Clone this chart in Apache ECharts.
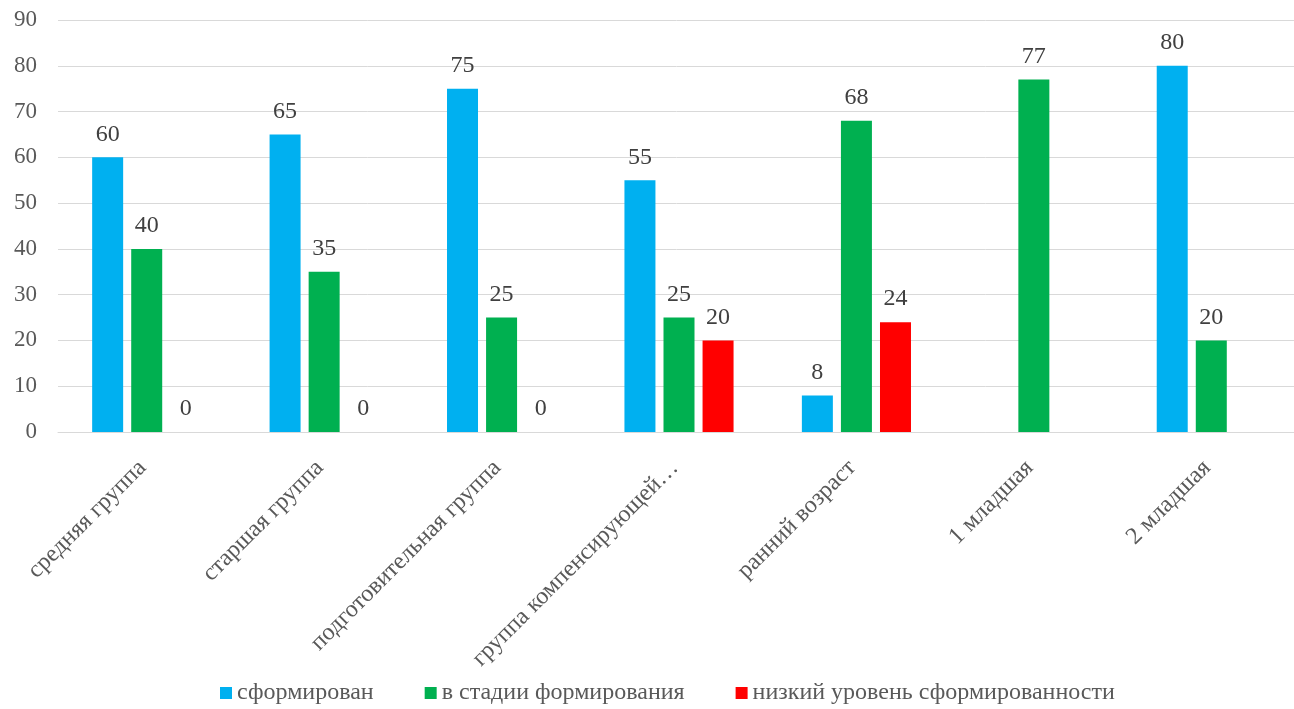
<!DOCTYPE html>
<html>
<head>
<meta charset="utf-8">
<script src="https://cdn.jsdelivr.net/npm/echarts@6/dist/echarts.min.js"></script>
<style>
html,body{margin:0;padding:0;background:#fff;}
#chart{width:1294px;height:709px;}
</style>
</head>
<body>
<div id="chart"></div>
<script>
const categories = ['средняя группа', 'старшая группа', 'подготовительная группа', 'группа компенсирующей…', 'ранний возраст', '1 младшая', '2 младшая'];
const seriesNames = ['сформирован', 'в стадии формирования', 'низкий уровень сформированности'];
const formed = [60, 65, 75, 55, 8, null, 80];
const forming = [40, 35, 25, 25, 68, 77, 20];
const low = [0, 0, 0, 20, 24, null, null];
const yTicks = {min: 0, max: 90, interval: 10};

const colors = ['#00B0F0', '#00B050', '#FF0000'];
const FONT = '"Liberation Serif", "Times New Roman", serif';

const chart = echarts.init(document.getElementById('chart'), null, {renderer: 'canvas'});
const labelCfg = {show: true, position: 'top', distance: 11, fontFamily: FONT, fontSize: 24, color: '#404040'};
function mk(name, data, color) {
  return {
    name: name, type: 'bar', data: data, barWidth: 31, barGap: '26%',
    itemStyle: {color: color}, label: labelCfg, emphasis: {disabled: true}
  };
}
chart.setOption({
  animation: false,
  color: colors,
  grid: {left: 58, width: 1242, top: 20, bottom: 277, containLabel: false, outerBoundsMode: 'none'},
  legend: {
    left: 220, top: 681, padding: 0, itemWidth: 12, itemHeight: 12, itemGap: 51, itemTextGap: 5,
    icon: 'rect',
    textStyle: {fontFamily: FONT, fontSize: 24, color: '#595959'},
    data: seriesNames
  },
  xAxis: {
    type: 'category', data: categories,
    axisLine: {lineStyle: {color: '#D9D9D9', width: 1}},
    axisTick: {show: false},
    axisLabel: {rotate: 45, interval: 0, margin: 28, padding: [17, 6, 0, 0], fontFamily: FONT, fontSize: 24, color: '#595959'}
  },
  yAxis: {
    type: 'value', min: yTicks.min, max: yTicks.max, interval: yTicks.interval,
    axisLine: {show: false}, axisTick: {show: false},
    splitLine: {lineStyle: {color: '#D9D9D9', width: 1}},
    axisLabel: {margin: 21, fontFamily: FONT, fontSize: 23, color: '#595959'}
  },
  series: [mk(seriesNames[0], formed, colors[0]), mk(seriesNames[1], forming, colors[1]), mk(seriesNames[2], low, colors[2])]
});
</script>
</body>
</html>
